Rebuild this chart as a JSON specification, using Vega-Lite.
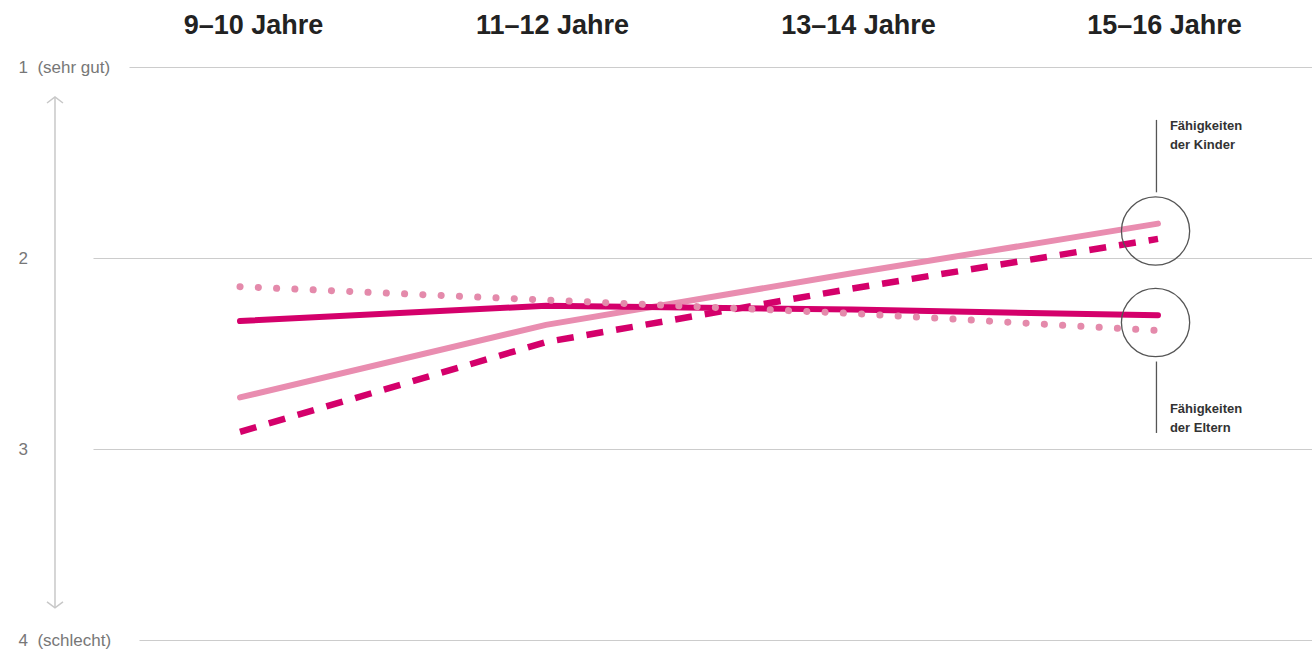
{
  "$schema": "https://vega.github.io/schema/vega-lite/v6.json",
  "autosize": {"type": "none"},
  "width": 1312,
  "height": 607,
  "padding": {"top": 45, "left": 0, "right": 0, "bottom": 0},
  "background": "white",
  "config": {"view": {"stroke": null}, "font": "Liberation Sans"},
  "datasets": {
    "werte": [
      {"gruppe": "9–10 Jahre", "stufe": 1, "reihe": "Kinder: Linie", "wert": 2.73},
      {"gruppe": "11–12 Jahre", "stufe": 2, "reihe": "Kinder: Linie", "wert": 2.35},
      {"gruppe": "13–14 Jahre", "stufe": 3, "reihe": "Kinder: Linie", "wert": 2.08},
      {"gruppe": "15–16 Jahre", "stufe": 4, "reihe": "Kinder: Linie", "wert": 1.82},
      {"gruppe": "9–10 Jahre", "stufe": 1, "reihe": "Kinder: gestrichelt", "wert": 2.91},
      {"gruppe": "11–12 Jahre", "stufe": 2, "reihe": "Kinder: gestrichelt", "wert": 2.44},
      {"gruppe": "13–14 Jahre", "stufe": 3, "reihe": "Kinder: gestrichelt", "wert": 2.16},
      {"gruppe": "15–16 Jahre", "stufe": 4, "reihe": "Kinder: gestrichelt", "wert": 1.9},
      {"gruppe": "9–10 Jahre", "stufe": 1, "reihe": "Eltern: Linie", "wert": 2.33},
      {"gruppe": "11–12 Jahre", "stufe": 2, "reihe": "Eltern: Linie", "wert": 2.25},
      {"gruppe": "13–14 Jahre", "stufe": 3, "reihe": "Eltern: Linie", "wert": 2.27},
      {"gruppe": "15–16 Jahre", "stufe": 4, "reihe": "Eltern: Linie", "wert": 2.3},
      {"gruppe": "9–10 Jahre", "stufe": 1, "reihe": "Eltern: gepunktet", "wert": 2.15},
      {"gruppe": "11–12 Jahre", "stufe": 2, "reihe": "Eltern: gepunktet", "wert": 2.22},
      {"gruppe": "13–14 Jahre", "stufe": 3, "reihe": "Eltern: gepunktet", "wert": 2.29},
      {"gruppe": "15–16 Jahre", "stufe": 4, "reihe": "Eltern: gepunktet", "wert": 2.38}
    ]
  },
  "layer": [
    {
      "data": {"name": "werte"},
      "transform": [{"filter": "datum.reihe == 'Kinder: Linie'"}],
      "mark": {"type": "line", "strokeWidth": 6, "strokeCap": "round"},
      "encoding": {
        "x": {
          "field": "stufe", "type": "quantitative",
          "scale": {"domain": [0.2157, 4.5033], "nice": false, "zero": false},
          "axis": {
            "orient": "top", "values": [1, 2, 3, 4],
            "labelExpr": "['', '9–10 Jahre', '11–12 Jahre', '13–14 Jahre', '15–16 Jahre'][datum.value]",
            "title": null, "domain": false, "ticks": false, "tickSize": 0, "grid": false,
            "labelFont": "Liberation Sans", "labelFontWeight": "bold", "labelFontSize": 27,
            "labelColor": "#222222", "labelPadding": 12, "labelBaseline": "alphabetic",
            "labelOffset": {"condition": {"test": "datum.value == 1", "value": 13}, "value": 6},
            "labelFlush": false, "labelOverlap": false
          }
        },
        "y": {
          "field": "wert", "type": "quantitative",
          "scale": {"domain": [0.8848, 4.0628], "reverse": true, "nice": false, "zero": false},
          "axis": {
            "orient": "left", "values": [1, 2, 3, 4],
            "labelExpr": "datum.value == 1 ? '1\u00a0 (sehr gut)' : datum.value == 4 ? '4\u00a0 (schlecht)' : format(datum.value, 'd')",
            "title": null, "domain": false, "ticks": false, "tickSize": 0,
            "labelAlign": "left", "labelBaseline": "middle", "labelPadding": -18,
            "labelFont": "Liberation Sans", "labelFontSize": 17, "labelColor": "#777777",
            "labelFlush": false, "labelOverlap": false,
            "grid": true, "gridColor": "#cccccc", "gridWidth": 1.2,
            "gridDash": {
              "condition": [
                {"test": "datum.value == 1", "value": [0, 129, 3000, 0]},
                {"test": "datum.value == 4", "value": [0, 139, 3000, 0]}
              ],
              "value": [0, 93, 3000, 0]
            }
          }
        },
        "color": {
          "field": "reihe", "type": "nominal", "legend": null,
          "scale": {
            "domain": ["Kinder: Linie", "Kinder: gestrichelt", "Eltern: Linie", "Eltern: gepunktet"],
            "range": ["#e98db0", "#d4006b", "#d4006b", "#e48aab"]
          }
        }
      }
    },
    {
      "data": {"name": "werte"},
      "transform": [{"filter": "datum.reihe == 'Eltern: Linie'"}],
      "mark": {"type": "line", "strokeWidth": 6, "strokeCap": "round"},
      "encoding": {
        "x": {"field": "stufe", "type": "quantitative"},
        "y": {"field": "wert", "type": "quantitative"},
        "color": {"field": "reihe", "type": "nominal", "legend": null}
      }
    },
    {
      "data": {"name": "werte"},
      "transform": [{"filter": "datum.reihe == 'Kinder: gestrichelt'"}],
      "mark": {"type": "line", "strokeWidth": 6.5, "strokeCap": "butt", "strokeDash": [17, 13]},
      "encoding": {
        "x": {"field": "stufe", "type": "quantitative"},
        "y": {"field": "wert", "type": "quantitative"},
        "color": {"field": "reihe", "type": "nominal", "legend": null}
      }
    },
    {
      "data": {"name": "werte"},
      "transform": [{"filter": "datum.reihe == 'Eltern: gepunktet'"}],
      "mark": {"type": "line", "strokeWidth": 7, "strokeCap": "round", "strokeDash": [0.1, 18.2]},
      "encoding": {
        "x": {"field": "stufe", "type": "quantitative"},
        "y": {"field": "wert", "type": "quantitative"},
        "color": {"field": "reihe", "type": "nominal", "legend": null}
      }
    },
    {
      "data": {"values": [{}]},
      "mark": {"type": "rule", "color": "#c8c8c8", "strokeWidth": 1.5},
      "encoding": {
        "x": {"datum": 0.3954, "type": "quantitative"},
        "y": {"datum": 1.157, "type": "quantitative"},
        "y2": {"datum": 3.832}
      }
    },
    {
      "data": {"values": [{}]},
      "mark": {"type": "point", "shape": "M -1 0.75 L 0 0 L 1 0.75", "size": 256, "filled": false, "stroke": "#c8c8c8", "strokeWidth": 1.5, "opacity": 1},
      "encoding": {
        "x": {"datum": 0.3954, "type": "quantitative"},
        "y": {"datum": 1.157, "type": "quantitative"}
      }
    },
    {
      "data": {"values": [{}]},
      "mark": {"type": "point", "shape": "M -1 -0.75 L 0 0 L 1 -0.75", "size": 256, "filled": false, "stroke": "#c8c8c8", "strokeWidth": 1.5, "opacity": 1},
      "encoding": {
        "x": {"datum": 0.3954, "type": "quantitative"},
        "y": {"datum": 3.832, "type": "quantitative"}
      }
    },
    {
      "data": {"values": [{}]},
      "mark": {"type": "point", "shape": "circle", "size": 4657, "filled": false, "stroke": "#555555", "strokeWidth": 1.3, "opacity": 1},
      "encoding": {
        "x": {"datum": 3.992, "type": "quantitative"},
        "y": {"datum": 1.859, "type": "quantitative"}
      }
    },
    {
      "data": {"values": [{}]},
      "mark": {"type": "point", "shape": "circle", "size": 4657, "filled": false, "stroke": "#555555", "strokeWidth": 1.3, "opacity": 1},
      "encoding": {
        "x": {"datum": 3.992, "type": "quantitative"},
        "y": {"datum": 2.338, "type": "quantitative"}
      }
    },
    {
      "data": {"values": [{}]},
      "mark": {"type": "rule", "color": "#555555", "strokeWidth": 1.3},
      "encoding": {
        "x": {"datum": 3.995, "type": "quantitative"},
        "y": {"datum": 1.277, "type": "quantitative"},
        "y2": {"datum": 1.656}
      }
    },
    {
      "data": {"values": [{}]},
      "mark": {"type": "rule", "color": "#555555", "strokeWidth": 1.3},
      "encoding": {
        "x": {"datum": 3.995, "type": "quantitative"},
        "y": {"datum": 2.542, "type": "quantitative"},
        "y2": {"datum": 2.916}
      }
    },
    {
      "data": {"values": [{}]},
      "mark": {"type": "text", "text": ["Fähigkeiten", "der Kinder"], "align": "left", "baseline": "alphabetic", "lineHeight": 19, "font": "Liberation Sans", "fontWeight": "bold", "fontSize": 13, "color": "#333333"},
      "encoding": {
        "x": {"datum": 4.039, "type": "quantitative"},
        "y": {"datum": 1.33, "type": "quantitative"}
      }
    },
    {
      "data": {"values": [{}]},
      "mark": {"type": "text", "text": ["Fähigkeiten", "der Eltern"], "align": "left", "baseline": "alphabetic", "lineHeight": 19, "font": "Liberation Sans", "fontWeight": "bold", "fontSize": 13, "color": "#333333"},
      "encoding": {
        "x": {"datum": 4.039, "type": "quantitative"},
        "y": {"datum": 2.812, "type": "quantitative"}
      }
    }
  ]
}
